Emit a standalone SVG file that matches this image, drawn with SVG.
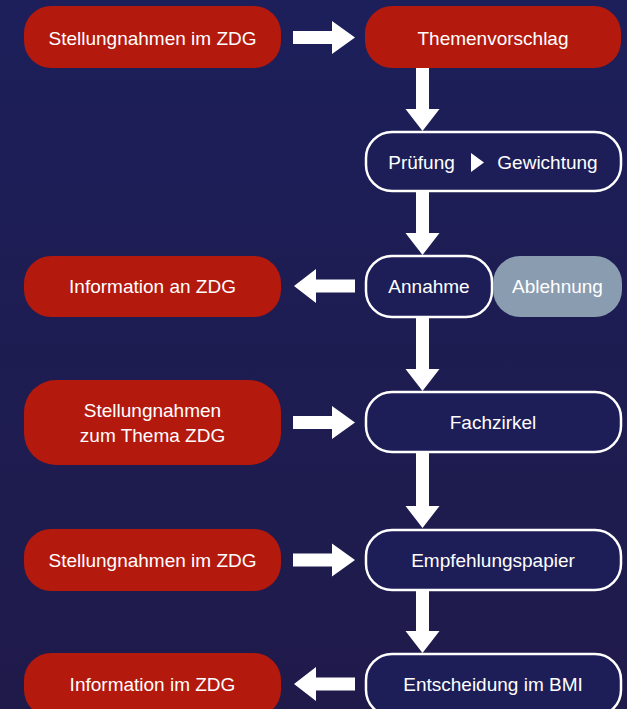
<svg xmlns="http://www.w3.org/2000/svg" width="627" height="709" viewBox="0 0 627 709">
<defs>
<linearGradient id="bg" x1="0" y1="0" x2="0" y2="1">
<stop offset="0" stop-color="#1c1f5a"/>
<stop offset="1" stop-color="#1f1a4a"/>
</linearGradient>
</defs>
<style>
.red{fill:#b3190d}
.out{fill:#1d1e57;stroke:#ffffff;stroke-width:2.5}
.grey{fill:#8a9cb0}
text{font-family:"Liberation Sans",Arial,sans-serif;font-size:19px;fill:#ffffff;text-anchor:middle}
.arr{fill:#ffffff}
</style>
<rect x="0" y="0" width="627" height="709" fill="url(#bg)"/>
<g id="connectors" class="arr">
<polygon points="293,31 332,31 332,21 355,37.5 332,54 332,44 293,44"/>
<polygon points="293,416 332,416 332,406 355,422.5 332,439 332,429 293,429"/>
<polygon points="293,553.5 332,553.5 332,543.5 355,560 332,576.5 332,566.5 293,566.5"/>
<polygon points="355,279.5 316,279.5 316,269 294,286 316,303 316,292.5 355,292.5"/>
<polygon points="355,677.5 316,677.5 316,667 294,684 316,701 316,690.5 355,690.5"/>
<polygon points="416,68 429,68 429,109 439.5,109 422.5,131 405.5,109 416,109"/>
<polygon points="416,192 429,192 429,233 439.5,233 422.5,255 405.5,233 416,233"/>
<polygon points="416,317 429,317 429,369 439.5,369 422.5,391 405.5,369 416,369"/>
<polygon points="416,452 429,452 429,506 439.5,506 422.5,528 405.5,506 416,506"/>
<polygon points="416,590 429,590 429,631 439.5,631 422.5,653 405.5,631 416,631"/>
</g>
<g id="n1"><rect class="red" x="24" y="6" width="257" height="62" rx="27"/><text x="152.5" y="44.5">Stellungnahmen im ZDG</text></g>
<g id="n2"><rect class="red" x="365" y="6" width="256" height="62" rx="27"/><text x="493" y="44.5">Themenvorschlag</text></g>
<g id="n3"><rect class="out" x="366" y="132" width="255" height="59" rx="26"/><text x="421.5" y="168.5">Prüfung</text><polygon class="arr" points="471,153 484,162.5 471,172"/><text x="547.5" y="168.5">Gewichtung</text></g>
<g id="n4"><rect class="out" x="366" y="256" width="126" height="61" rx="26"/><text x="429" y="293">Annahme</text></g>
<g id="n5"><rect class="grey" x="493" y="256" width="129" height="61" rx="27"/><text x="557.5" y="293">Ablehnung</text></g>
<g id="n6"><rect class="red" x="24" y="256" width="257" height="61" rx="27"/><text x="152.5" y="293">Information an ZDG</text></g>
<g id="n7"><rect class="red" x="24" y="380" width="257" height="85" rx="32"/><text x="152.5" y="417">Stellungnahmen</text><text x="152.5" y="442">zum Thema ZDG</text></g>
<g id="n8"><rect class="out" x="366" y="392" width="255" height="60" rx="26"/><text x="493" y="429">Fachzirkel</text></g>
<g id="n9"><rect class="red" x="24" y="529" width="257" height="62" rx="27"/><text x="152.5" y="566.5">Stellungnahmen im ZDG</text></g>
<g id="n10"><rect class="out" x="366" y="530" width="255" height="60" rx="26"/><text x="493" y="566.5">Empfehlungspapier</text></g>
<g id="n11"><rect class="red" x="24" y="653" width="257" height="64" rx="27"/><text x="152.5" y="691">Information im ZDG</text></g>
<g id="n12"><rect class="out" x="366" y="654" width="255" height="62" rx="26"/><text x="493" y="691">Entscheidung im BMI</text></g>
</svg>
